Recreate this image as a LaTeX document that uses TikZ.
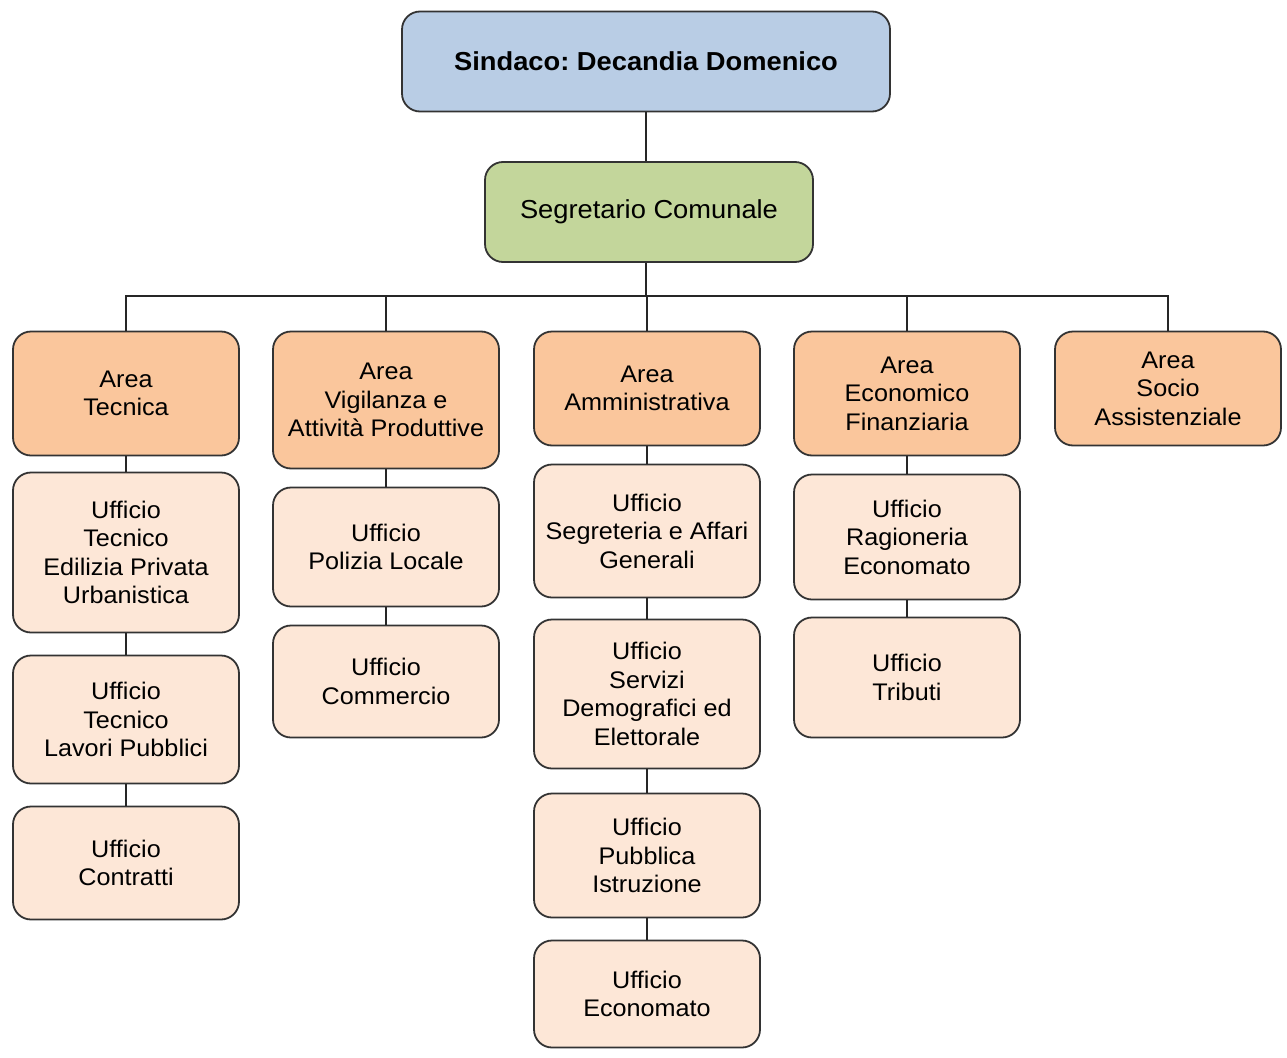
\documentclass[tikz,border=0pt]{standalone}
\usepackage{fontspec}
\setmainfont{Liberation Sans}[FakeStretch=1.05]
\usepackage{xcolor}
\usetikzlibrary{positioning}
\definecolor{sindfill}{RGB}{185,205,229}
\definecolor{segrfill}{RGB}{195,214,155}
\definecolor{areafill}{RGB}{250,198,156}
\definecolor{uffill}{RGB}{253,231,215}
\frenchspacing

\begin{document}
\begin{tikzpicture}[x=1pt,y=-1pt,
  box/.style={draw=black!80,line width=1.8pt,rounded corners=18pt,align=center,
    inner sep=0pt,minimum width=226pt,font=\fontsize{24}{28.5}\selectfont},
  area/.style={box,fill=areafill},
  uff/.style={box,fill=uffill},
  link/.style={line width=1.6pt,black!85}]
  \useasboundingbox (0,0) rectangle (1287,1057);
  % top of the chart
  \node[box,fill=sindfill,minimum width=488pt,minimum height=100pt,
    font=\fontsize{26}{30}\selectfont\bfseries] (sind) at (646,61.5)
    {Sindaco: Decandia Domenico};
  \node[box,fill=segrfill,minimum width=328pt,minimum height=100pt,
    font=\fontsize{26}{30}\selectfont] (segr) at (649,212) {Segretario Comunale};
  \coordinate (bus) at (646,296);
  % areas
  \node[area,minimum height=124pt] (aTec) at (126,393.5) {Area\\Tecnica};
  \node[area,minimum height=137pt] (aVig) at (386,400) {Area\\Vigilanza e\\Attività Produttive};
  \node[area,minimum height=114pt] (aAmm) at (647,388.5) {Area\\Amministrativa};
  \node[area,minimum height=124pt] (aEco) at (907,393.5) {Area\\Economico\\Finanziaria};
  \node[area,minimum height=114pt] (aSoc) at (1168,388.5) {Area\\Socio\\Assistenziale};
  % uffici, column by column
  \node[uff,minimum height=160pt] (uEdi) at (126,552.5) {Ufficio\\Tecnico\\Edilizia Privata\\Urbanistica};
  \node[uff,minimum height=128pt] (uLav) at (126,719.5) {Ufficio\\Tecnico\\Lavori Pubblici};
  \node[uff,minimum height=113pt] (uCon) at (126,863) {Ufficio\\Contratti};
  \node[uff,minimum height=119pt] (uPol) at (386,547) {Ufficio\\Polizia Locale};
  \node[uff,minimum height=112pt] (uCom) at (386,681.5) {Ufficio\\Commercio};
  \node[uff,minimum height=133pt] (uSeg) at (647,531) {Ufficio\\Segreteria e Affari\\Generali};
  \node[uff,minimum height=149pt] (uDem) at (647,694) {Ufficio\\Servizi\\Demografici ed\\Elettorale};
  \node[uff,minimum height=124pt] (uIst) at (647,855.5) {Ufficio\\Pubblica\\Istruzione};
  \node[uff,minimum height=107pt] (uEco) at (647,994) {Ufficio\\Economato};
  \node[uff,minimum height=125pt] (uRag) at (907,537) {Ufficio\\Ragioneria\\Economato};
  \node[uff,minimum height=120pt] (uTri) at (907,677.5) {Ufficio\\Tributi};
  % connectors
  \draw[link] (sind.south -| bus) -- (segr.north -| bus);
  \draw[link] (segr.south -| bus) -- (bus);
  \foreach \a in {aTec,aVig,aAmm,aEco,aSoc}
    \draw[link] (\a.north) |- (bus);
  \draw[link] (aTec) -- (uEdi) (uEdi) -- (uLav) (uLav) -- (uCon);
  \draw[link] (aVig) -- (uPol) (uPol) -- (uCom);
  \draw[link] (aAmm) -- (uSeg) (uSeg) -- (uDem) (uDem) -- (uIst) (uIst) -- (uEco);
  \draw[link] (aEco) -- (uRag) (uRag) -- (uTri);
\end{tikzpicture}
\end{document}
